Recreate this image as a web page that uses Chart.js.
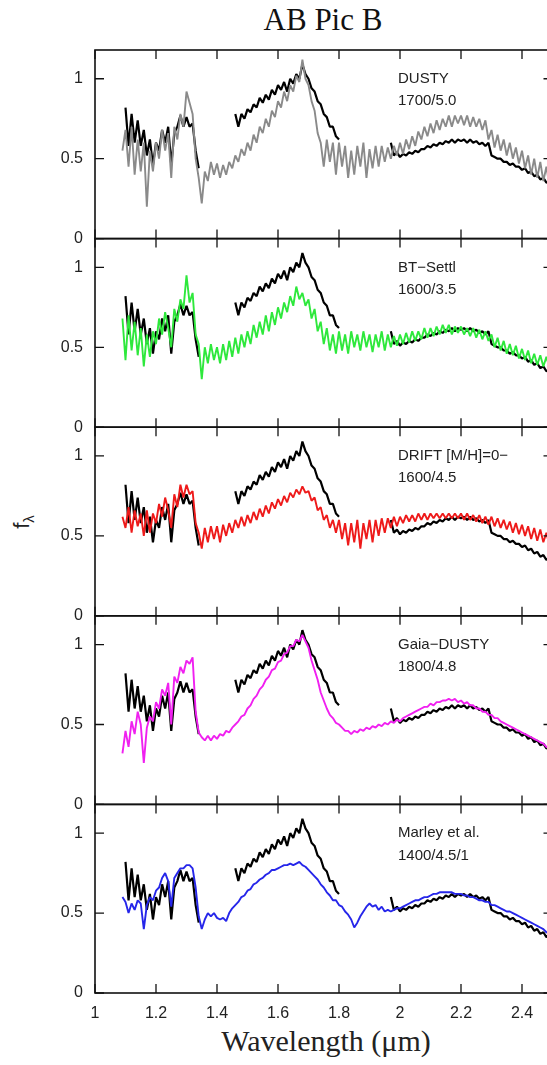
<!DOCTYPE html>
<html>
<head>
<meta charset="utf-8">
<title>AB Pic B</title>
<script src="https://cdn.jsdelivr.net/npm/chart.js@4.4.1/dist/chart.umd.min.js"></script>
<style>
  html, body { margin: 0; padding: 0; background: #fff; overflow: hidden; }
  #fig { position: relative; width: 547px; height: 1065px; overflow: hidden; }
  #fig canvas { position: absolute; left: 0; }
  #title { position: absolute; left: 0; width: 646px; top: 4px; text-align: center;
           font: 31px/31px "Liberation Serif", "Times New Roman", serif; color: #111; }
  #xlabel { position: absolute; left: 0; width: 652px; top: 1026px; text-align: center;
            font: 30px/30px "Liberation Serif", "Times New Roman", serif; color: #222; }
  #ylabel { position: absolute; left: 4px; top: 507px; width: 40px; height: 30px;
            line-height: 30px; text-align: center; transform: rotate(-90deg);
            font: 22px "Liberation Sans", Arial, sans-serif; color: #222; }
  #ylabel sub { font-size: 15px; }
</style>
</head>
<body>
<div id="fig">
  <div id="title">AB Pic B</div>
  <div id="ylabel">f<sub>λ</sub></div>
  <div id="xlabel">Wavelength (μm)</div>
</div>
<script>
// wavelength grid (micron)
const wave = [
  1.09,1.10,1.11,1.12,1.13,1.14,1.15,1.16,1.17,1.18,
  1.19,1.20,1.21,1.22,1.23,1.24,1.25,1.26,1.27,1.28,
  1.29,1.30,1.31,1.32,1.33,1.34,1.35,1.36,1.37,1.38,
  1.39,1.40,1.41,1.42,1.43,1.44,1.45,1.46,1.47,1.48,
  1.49,1.50,1.51,1.52,1.53,1.54,1.55,1.56,1.57,1.58,
  1.59,1.60,1.61,1.62,1.63,1.64,1.65,1.66,1.67,1.68,
  1.69,1.70,1.71,1.72,1.73,1.74,1.75,1.76,1.77,1.78,
  1.79,1.80,1.81,1.82,1.83,1.84,1.85,1.86,1.87,1.88,
  1.89,1.90,1.91,1.92,1.93,1.94,1.95,1.96,1.97,1.98,
  1.99,2.00,2.01,2.02,2.03,2.04,2.05,2.06,2.07,2.08,
  2.09,2.10,2.11,2.12,2.13,2.14,2.15,2.16,2.17,2.18,
  2.19,2.20,2.21,2.22,2.23,2.24,2.25,2.26,2.27,2.28,
  2.29,2.30,2.31,2.32,2.33,2.34,2.35,2.36,2.37,2.38,
  2.39,2.40,2.41,2.42,2.43,2.44,2.45,2.46,2.47,2.48,
  2.49,2.50
];

// observed spectrum (J, H, K pieces; null = no data)
const abPicB = [
  null,0.82,0.58,0.78,0.60,0.74,0.58,0.68,0.52,0.62,
  0.46,0.60,0.55,0.68,0.60,0.70,0.46,0.66,0.70,0.77,
  0.70,0.76,0.70,0.72,0.55,0.44,null,null,null,null,
  null,null,null,null,null,null,null,0.78,0.70,0.78,
  0.75,0.81,0.79,0.84,0.82,0.88,0.85,0.90,0.87,0.93,
  0.90,0.96,0.93,0.98,0.92,1.00,0.97,1.03,1.00,1.09,
  1.03,1.00,0.94,0.92,0.86,0.84,0.78,0.76,0.70,0.70,
  0.64,0.62,null,null,null,null,null,null,null,null,
  null,null,null,null,null,null,null,null,0.60,0.52,
  0.54,0.51,0.53,0.52,0.54,0.53,0.55,0.54,0.56,0.56,
  0.58,0.57,0.59,0.58,0.60,0.59,0.61,0.60,0.62,0.60,
  0.62,0.61,0.62,0.60,0.62,0.60,0.61,0.59,0.60,0.58,
  0.60,0.52,0.51,0.50,0.50,0.48,0.48,0.46,0.47,0.45,
  0.45,0.43,0.44,0.41,0.42,0.39,0.40,0.37,0.38,0.35,
  0.36,0.33
];

const dusty = [
  0.55,0.68,0.45,0.70,0.40,0.62,0.42,0.60,0.20,0.55,
  0.42,0.60,0.50,0.68,0.55,0.66,0.38,0.70,0.62,0.78,
  0.70,0.92,0.85,0.78,0.50,0.38,0.22,0.42,0.36,0.48,
  0.40,0.47,0.38,0.46,0.40,0.48,0.44,0.52,0.48,0.56,
  0.52,0.60,0.55,0.65,0.60,0.70,0.66,0.75,0.70,0.80,
  0.76,0.86,0.82,0.92,0.86,0.96,0.92,1.02,0.98,1.12,
  1.00,0.96,0.86,0.80,0.66,0.60,0.45,0.62,0.48,0.60,
  0.40,0.60,0.45,0.58,0.38,0.55,0.40,0.58,0.45,0.60,
  0.38,0.56,0.44,0.58,0.45,0.58,0.48,0.57,0.50,0.58,
  0.52,0.60,0.53,0.62,0.56,0.64,0.58,0.67,0.62,0.70,
  0.64,0.72,0.66,0.74,0.68,0.75,0.70,0.77,0.70,0.77,
  0.72,0.77,0.71,0.77,0.70,0.76,0.70,0.75,0.68,0.74,
  0.62,0.68,0.57,0.65,0.55,0.62,0.52,0.60,0.50,0.57,
  0.47,0.55,0.44,0.52,0.40,0.50,0.38,0.48,0.36,0.45,
  0.33,0.40
];

const btSettl = [
  0.68,0.42,0.70,0.48,0.66,0.45,0.62,0.38,0.58,0.44,
  0.60,0.52,0.68,0.58,0.72,0.62,0.50,0.74,0.66,0.80,
  0.74,0.95,0.78,0.84,0.58,0.52,0.30,0.50,0.40,0.52,
  0.42,0.50,0.40,0.52,0.42,0.54,0.44,0.56,0.46,0.58,
  0.50,0.60,0.52,0.64,0.56,0.66,0.58,0.70,0.60,0.72,
  0.64,0.75,0.68,0.78,0.72,0.82,0.76,0.88,0.80,0.84,
  0.76,0.80,0.68,0.74,0.60,0.66,0.52,0.62,0.48,0.58,
  0.46,0.60,0.48,0.58,0.46,0.60,0.50,0.58,0.48,0.60,
  0.50,0.58,0.47,0.58,0.50,0.60,0.48,0.58,0.50,0.57,
  0.51,0.58,0.52,0.59,0.53,0.60,0.54,0.60,0.55,0.62,
  0.56,0.62,0.57,0.63,0.58,0.64,0.59,0.64,0.58,0.63,
  0.59,0.63,0.58,0.62,0.57,0.62,0.56,0.61,0.55,0.60,
  0.54,0.58,0.50,0.56,0.48,0.54,0.46,0.52,0.45,0.51,
  0.43,0.49,0.42,0.48,0.40,0.46,0.39,0.45,0.38,0.44,
  0.37,0.42
];

const drift = [
  0.62,0.55,0.68,0.52,0.66,0.56,0.64,0.50,0.66,0.52,
  0.64,0.58,0.70,0.62,0.74,0.66,0.55,0.76,0.68,0.82,
  0.74,0.82,0.76,0.78,0.58,0.52,0.42,0.55,0.46,0.56,
  0.48,0.56,0.46,0.57,0.50,0.58,0.52,0.60,0.55,0.62,
  0.56,0.63,0.58,0.65,0.60,0.67,0.62,0.69,0.64,0.71,
  0.67,0.73,0.69,0.75,0.71,0.77,0.74,0.79,0.76,0.81,
  0.77,0.78,0.72,0.74,0.66,0.68,0.60,0.63,0.55,0.60,
  0.52,0.60,0.48,0.58,0.44,0.58,0.46,0.60,0.42,0.58,
  0.48,0.60,0.46,0.60,0.50,0.61,0.52,0.61,0.55,0.62,
  0.56,0.62,0.58,0.63,0.59,0.63,0.59,0.64,0.60,0.64,
  0.60,0.64,0.61,0.64,0.61,0.64,0.61,0.64,0.61,0.64,
  0.61,0.64,0.60,0.64,0.60,0.63,0.59,0.63,0.58,0.62,
  0.57,0.62,0.56,0.61,0.55,0.60,0.54,0.59,0.52,0.58,
  0.51,0.57,0.50,0.56,0.48,0.55,0.47,0.54,0.46,0.52,
  0.44,0.50
];

const gaiaDusty = [
  0.32,0.46,0.36,0.52,0.44,0.58,0.50,0.26,0.48,0.55,
  0.52,0.64,0.60,0.72,0.68,0.76,0.50,0.80,0.76,0.86,
  0.82,0.90,0.88,0.92,0.58,0.45,0.42,0.40,0.43,0.40,
  0.43,0.41,0.44,0.43,0.46,0.45,0.48,0.50,0.52,0.55,
  0.56,0.60,0.62,0.66,0.68,0.72,0.74,0.78,0.80,0.84,
  0.85,0.89,0.90,0.94,0.95,0.99,0.99,1.03,1.02,1.06,
  1.02,0.98,0.90,0.84,0.78,0.70,0.65,0.60,0.56,0.54,
  0.51,0.50,0.48,0.46,0.46,0.44,0.46,0.45,0.47,0.46,
  0.48,0.47,0.49,0.48,0.50,0.49,0.51,0.50,0.52,0.51,
  0.53,0.52,0.54,0.55,0.56,0.57,0.58,0.59,0.60,0.61,
  0.61,0.63,0.62,0.64,0.64,0.65,0.65,0.66,0.65,0.66,
  0.64,0.65,0.63,0.64,0.62,0.62,0.60,0.60,0.58,0.58,
  0.56,0.56,0.54,0.54,0.52,0.51,0.50,0.49,0.48,0.47,
  0.46,0.45,0.44,0.43,0.42,0.41,0.40,0.39,0.38,0.36,
  0.35,0.33
];

const marley = [
  0.60,0.57,0.50,0.56,0.52,0.58,0.56,0.40,0.55,0.60,
  0.58,0.64,0.66,0.72,0.75,0.70,0.54,0.72,0.75,0.78,
  0.78,0.80,0.80,0.78,0.66,0.48,0.40,0.46,0.50,0.48,
  0.50,0.47,0.46,0.47,0.45,0.50,0.53,0.55,0.57,0.60,
  0.61,0.64,0.65,0.68,0.69,0.71,0.72,0.74,0.75,0.77,
  0.77,0.78,0.79,0.80,0.80,0.81,0.80,0.81,0.82,0.80,
  0.79,0.77,0.75,0.73,0.71,0.68,0.66,0.63,0.61,0.58,
  0.58,0.55,0.54,0.51,0.49,0.46,0.41,0.44,0.48,0.51,
  0.54,0.56,0.54,0.55,0.52,0.54,0.51,0.52,0.51,0.52,
  0.53,0.53,0.54,0.55,0.56,0.57,0.58,0.58,0.59,0.60,
  0.60,0.61,0.62,0.62,0.63,0.63,0.63,0.63,0.63,0.62,
  0.62,0.62,0.61,0.61,0.60,0.60,0.59,0.58,0.58,0.57,
  0.57,0.55,0.55,0.54,0.53,0.52,0.51,0.51,0.50,0.49,
  0.48,0.47,0.46,0.45,0.44,0.43,0.42,0.41,0.40,0.38,
  0.37,0.36
];

const modelFlux = [dusty, btSettl, drift, gaiaDusty, marley];
const modelNames = ['DUSTY', 'BT\u2212Settl', 'DRIFT [M/H]=0\u2212', 'Gaia\u2212DUSTY', 'Marley et al.'];
const modelParams = ['1700/5.0', '1600/3.5', '1600/4.5', '1800/4.8', '1400/4.5/1'];
const modelColors = ['#8a8a8a', '#2ee83c', '#ee1a1a', '#f020f0', '#2626ea'];

const xTicks = [1, 1.2, 1.4, 1.6, 1.8, 2, 2.2, 2.4];
const yTicks = [0, 0.5, 1];

Chart.defaults.font.family = '"Liberation Sans", Arial, Helvetica, sans-serif';
Chart.defaults.font.size = 16;
Chart.defaults.color = '#222';

// box round each panel, ticks pointing inwards, model name in the corner
const framePlugin = {
  id: 'frame',
  afterDatasetsDraw(chart, args, opts) {
    const { ctx, chartArea: a } = chart;
    const x = chart.scales.x, y = chart.scales.y;
    ctx.save();
    ctx.strokeStyle = '#111';
    ctx.lineWidth = 1.6;
    ctx.strokeRect(a.left, a.top, a.right - a.left, a.bottom - a.top);
    ctx.lineWidth = 1.3;
    ctx.beginPath();
    xTicks.forEach(v => {
      const px = x.getPixelForValue(v);
      ctx.moveTo(px, a.top); ctx.lineTo(px, a.top + 9);
      ctx.moveTo(px, a.bottom); ctx.lineTo(px, a.bottom - 9);
    });
    yTicks.forEach(v => {
      const py = y.getPixelForValue(v);
      ctx.moveTo(a.left, py); ctx.lineTo(a.left + 9, py);
      ctx.moveTo(a.right, py); ctx.lineTo(a.right - 9, py);
    });
    ctx.stroke();
    ctx.fillStyle = '#222';
    ctx.font = '15px "Liberation Sans", Arial, sans-serif';
    ctx.textBaseline = 'middle';
    ctx.fillText(opts.name, 398, y.getPixelForValue(1.0));
    ctx.fillText(opts.params, 398, y.getPixelForValue(0.86));
    ctx.restore();
  }
};

function points(flux) {
  return wave.map((w, i) => ({ x: w, y: flux[i] }));
}

const fig = document.getElementById('fig');
const panelTop = 50, panelH = 188.6, nPanels = modelFlux.length;
const margin = 26;

for (let i = 0; i < nPanels; i++) {
  const last = i === nPanels - 1;
  const edge = panelTop + i * panelH;
  const top = Math.floor(edge) - margin;
  const h = last ? 1065 - top : Math.ceil(panelH) + 2 * margin;
  const padTop = edge - top;
  const padBottom = last ? h - (edge + panelH - top) - 30 : h - padTop - panelH;

  const cv = document.createElement('canvas');
  cv.width = 560;
  cv.height = h;
  cv.style.top = top + 'px';
  fig.appendChild(cv);

  new Chart(cv, {
    type: 'line',
    data: {
      datasets: [
        { data: points(modelFlux[i]), borderColor: modelColors[i], borderWidth: 1.9 },
        { data: points(abPicB), borderColor: '#000', borderWidth: 2.2 }
      ]
    },
    options: {
      responsive: false,
      animation: false,
      events: [],
      layout: { padding: { top: padTop, bottom: padBottom, left: 0, right: 7.5 } },
      elements: {
        point: { radius: 0 },
        line: { tension: 0, borderJoinStyle: 'bevel' }
      },
      plugins: {
        legend: { display: false },
        tooltip: { enabled: false },
        frame: { name: modelNames[i], params: modelParams[i] }
      },
      scales: {
        x: {
          type: 'linear', min: 1, max: 2.5,
          display: last,
          afterBuildTicks: s => { s.ticks = xTicks.map(v => ({ value: v })); },
          afterFit: s => { if (last) s.height = 30; },
          grid: { display: false, drawTicks: false },
          border: { display: false },
          ticks: { padding: 11, autoSkip: false, maxRotation: 0, callback: v => String(v) }
        },
        y: {
          type: 'linear', min: 0, max: 1.18,
          afterBuildTicks: s => { s.ticks = yTicks.map(v => ({ value: v })); },
          afterFit: s => { s.width = 95; },
          grid: { display: false, drawTicks: false },
          border: { display: false },
          ticks: { padding: 12, callback: v => String(v) }
        }
      }
    },
    plugins: [framePlugin]
  });
}
</script>
</body>
</html>
